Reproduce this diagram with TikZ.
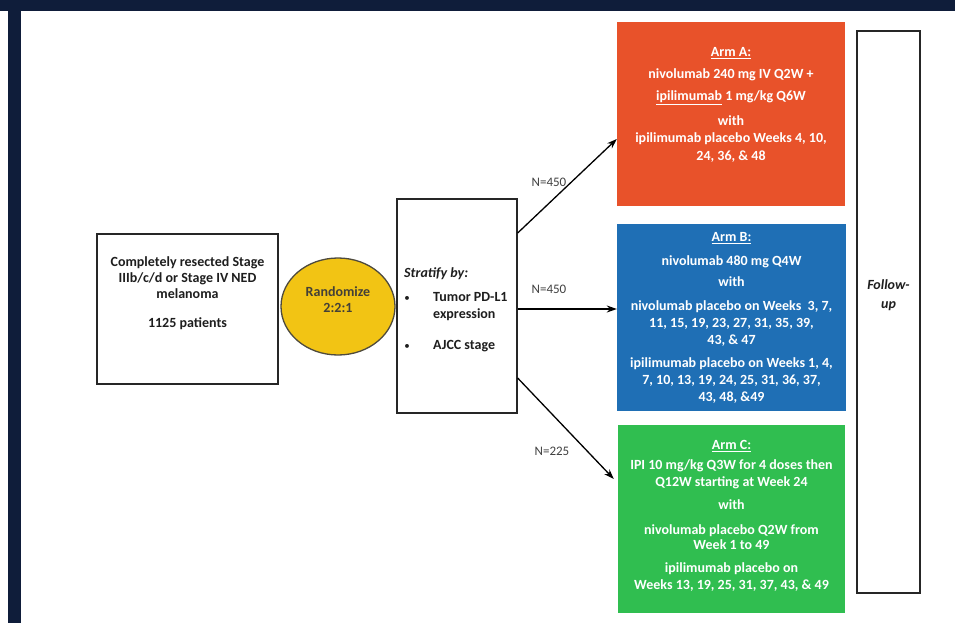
\documentclass[tikz,border=0pt]{standalone}
\usepackage{fontspec}
\setmainfont{Carlito}
\usetikzlibrary{arrows.meta,shapes.geometric,calc}
\definecolor{navy}{HTML}{0F1D3A}
\definecolor{armorange}{HTML}{E8522A}
\definecolor{armblue}{HTML}{1F6FB5}
\definecolor{armgreen}{HTML}{30BE50}
\definecolor{randyellow}{HTML}{F2C414}
\definecolor{darktext}{HTML}{1E1E1E}
\tikzset{
  plainbox/.style={draw=black!85, line width=1.3pt, fill=white, inner sep=0pt},
  armbox/.style={draw=none, inner sep=0pt},
  armtext/.style={text=white, font=\fontsize{14}{17}\selectfont\bfseries, align=center, inner sep=0pt, anchor=north},
  boxtext/.style={text=darktext, font=\fontsize{14}{16}\selectfont\bfseries, align=center, inner sep=0pt, anchor=north},
  nlabel/.style={text=black!75, font=\fontsize{13}{15}\selectfont, inner sep=0pt},
  arrowline/.style={line width=1.3pt, -{Stealth[length=10pt,width=7pt]}},
  strattext/.style={text=darktext, font=\fontsize{14}{17}\selectfont\bfseries, align=left, inner sep=0pt, anchor=base west},
  bulletmark/.style={text=darktext, font=\fontsize{11}{11}\selectfont, inner sep=0pt, anchor=base},
}
\begin{document}
\begin{tikzpicture}[x=1pt,y=-1pt]
\useasboundingbox (0,0) rectangle (955,623);
\fill[white] (0,0) rectangle (955,623);
\fill[navy] (0,0) rectangle (955,11);
\fill[navy] (8,0) rectangle (21,623);

% left box
\node[plainbox, minimum width=181pt, minimum height=150pt] (pop) at (187.5,309) {};
\node[boxtext] (poptext) at (187.5,256.5) {Completely resected Stage\\ IIIb/c/d or Stage IV NED\\ melanoma\\[13pt] 1125 patients};

% randomize ellipse
\node[ellipse, draw=black!80!yellow, line width=1.3pt, fill=randyellow, minimum width=114pt, minimum height=97pt, inner sep=0pt] (rand) at (338,306.5) {};
\node[text=black!85!yellow, font=\fontsize{14}{16}\selectfont\bfseries, align=center, inner sep=0pt] (randtext) at (338,300) {Randomize\\ 2:2:1};

% stratify box
\node[plainbox, minimum width=120pt, minimum height=214pt] (strat) at (457,306) {};
\node[strattext, font=\fontsize{14}{17}\selectfont\bfseries\itshape] (strath) at (404,277.5) {Stratify by:};
\node[bulletmark] (b1) at (407,301) {•};
\node[strattext] (s1) at (433,301.5) {Tumor PD-L1};
\node[strattext] (s1b) at (433,318.5) {expression};
\node[bulletmark] (b2) at (407,349) {•};
\node[strattext] (s2) at (433,349.5) {AJCC stage};

% arms
\node[armbox, fill=armorange, minimum width=228pt, minimum height=184pt] (armA) at (731,114) {};
\node[armtext] (tA) at (731,47) {\underline{Arm A:}\\[5pt] nivolumab 240 mg IV Q2W +\\[5pt] \underline{ipilimumab} 1 mg/kg Q6W\\[8pt] with\\ ipilimumab placebo Weeks 4, 10,\\[1pt] 24, 36, \& 48};

\node[armbox, fill=armblue, minimum width=229pt, minimum height=187pt] (armB) at (731.5,317.5) {};
\node[armtext] (tB) at (731.5,232) {\underline{Arm B:}\\[7pt] nivolumab 480 mg Q4W\\[4pt] with\\[7pt] nivolumab placebo on Weeks~~3, 7,\\ 11, 15, 19, 23, 27, 31, 35, 39,\\ 43, \& 47\\[6pt] ipilimumab placebo on Weeks 1, 4,\\ 7, 10, 13, 19, 24, 25, 31, 36, 37,\\ 43, 48, \&49};

\node[armbox, fill=armgreen, minimum width=227pt, minimum height=188pt] (armC) at (731.5,519) {};
\node[armtext] (tC) at (731.5,440) {\underline{Arm C:}\\[3pt] IPI 10 mg/kg Q3W for 4 doses then\\ Q12W starting at Week 24\\[6pt] with\\[8pt] nivolumab placebo Q2W from\\[-2pt] Week 1 to 49\\[6pt] ipilimumab placebo on\\ Weeks 13, 19, 25, 31, 37, 43, \& 49};

% follow-up
\node[plainbox, minimum width=63pt, minimum height=562pt] (follow) at (888.5,312) {};
\node[text=darktext, font=\fontsize{14}{19}\selectfont\bfseries\itshape, align=center, inner sep=0pt] (ftext) at (888.5,295) {Follow-\\ up};

% arrows
\draw[arrowline] ([yshift=73pt]strat.east) -- ([yshift=-25pt]armA.west);
\draw[arrowline] ([yshift=-3pt]strat.east) -- ([yshift=-3pt]strat.east -| armB.west);
\draw[arrowline] ([yshift=-72pt]strat.east) -- ([xshift=-4pt,yshift=40pt]armC.west);

\node[nlabel] (n1) at (549,182) {N=450};
\node[nlabel] (n2) at (549,289) {N=450};
\node[nlabel] (n3) at (552,451) {N=225};
\end{tikzpicture}
\end{document}
